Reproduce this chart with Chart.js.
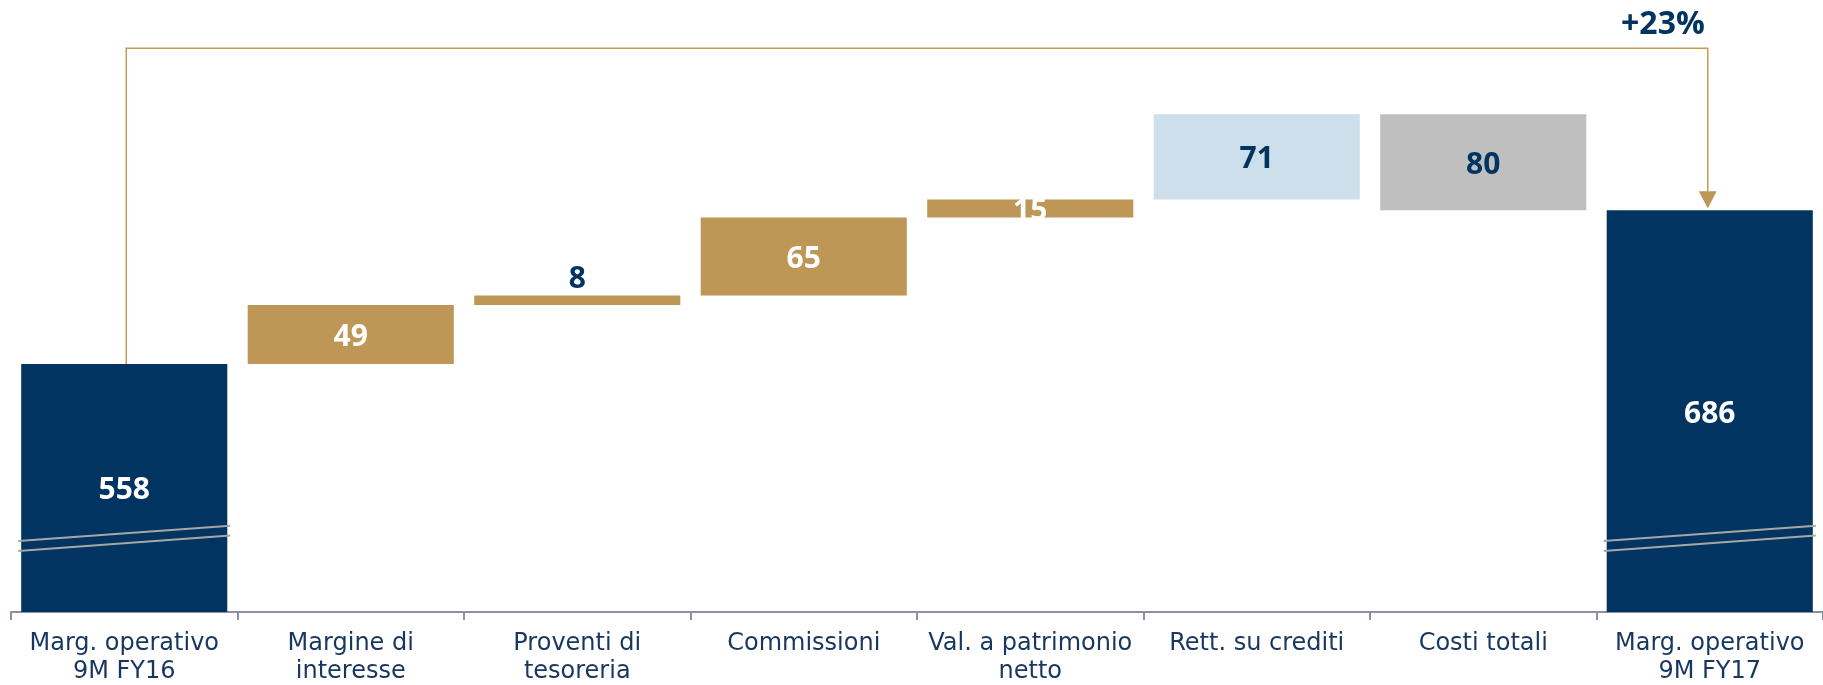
<!DOCTYPE html>
<html>
<head>
<meta charset="utf-8">
<script src="https://cdn.jsdelivr.net/npm/chart.js@4/dist/chart.umd.min.js"></script>
<style>
  body { margin: 0; background: #fff; }
  #wrap { width: 1823px; height: 685px; position: relative; }
</style>
</head>
<body>
<div id="wrap"><canvas id="waterfallChart"></canvas></div>
<script>
// dati (milioni di euro)
var categories = [
    ['Marg. operativo', '9M FY16'],
    ['Margine di', 'interesse'],
    ['Proventi di', 'tesoreria'],
    ['Commissioni'],
    ['Val. a patrimonio', 'netto'],
    ['Rett. su crediti'],
    ['Costi totali'],
    ['Marg. operativo', '9M FY17']
];
var steps = [558, 49, 8, 65, 15, 71, -80, 686];
var isTotal = [true, false, false, false, false, false, false, true];
var growthLabel = '+23%';

// stile
var navy = '#013461';
var gold = '#BE9656';
var barColors = [navy, gold, gold, gold, gold, '#CDDFEB', '#BFBFBF', navy];
var labelColors = ['#fff', '#fff', navy, '#fff', '#fff', navy, navy, '#fff'];
var labelAbove = [false, false, true, false, false, false, false, false];

// asse spezzato: parte da 351
var axisMin = 351.25;
var axisMax = 861.25;
var connectorLevel = 821;
var breakLeft = 410.4, breakRight = 423.2, breakGap = 8.3;

// barre flottanti per il waterfall
var floats = [];
var running = 0;
for (var i = 0; i < steps.length; i++) {
    if (isTotal[i]) {
        floats.push([axisMin, steps[i]]);
        running = steps[i];
    } else {
        floats.push([running, running + steps[i]]);
        running += steps[i];
    }
}

var waterfallExtras = {
    id: 'waterfallExtras',
    afterDatasetsDraw: function (chart) {
        var ctx = chart.ctx;
        var meta = chart.getDatasetMeta(0);
        var ys = chart.scales.y;
        ctx.save();

        // segni di interruzione sulle barre totali
        ctx.strokeStyle = '#A6A6A6';
        ctx.lineWidth = 2;
        meta.data.forEach(function (bar, i) {
            if (!isTotal[i]) return;
            var x0 = bar.x - bar.width / 2 - 3;
            var x1 = bar.x + bar.width / 2 + 3;
            [0, breakGap].forEach(function (d) {
                ctx.beginPath();
                ctx.moveTo(x0, ys.getPixelForValue(breakLeft - d));
                ctx.lineTo(x1, ys.getPixelForValue(breakRight - d));
                ctx.stroke();
            });
        });

        // etichette valori
        ctx.font = 'bold 30px "Open Sans"';
        ctx.textAlign = 'center';
        ctx.textBaseline = 'middle';
        meta.data.forEach(function (bar, i) {
            var top = Math.min(bar.y, bar.base);
            var bottom = Math.max(bar.y, bar.base);
            var ty = labelAbove[i] ? top - 16 : (top + bottom) / 2 + 3;
            ctx.fillStyle = labelColors[i];
            ctx.fillText(String(Math.abs(steps[i])), bar.x, ty);
        });

        // connettore +23%
        var first = meta.data[0];
        var last = meta.data[meta.data.length - 1];
        var lineY = ys.getPixelForValue(connectorLevel);
        var tipY = Math.min(last.y, last.base) - 2;
        ctx.strokeStyle = '#C99A55';
        ctx.lineWidth = 1.5;
        ctx.beginPath();
        ctx.moveTo(first.x + 2, Math.min(first.y, first.base));
        ctx.lineTo(first.x + 2, lineY);
        ctx.lineTo(last.x - 2, lineY);
        ctx.lineTo(last.x - 2, tipY - 16);
        ctx.stroke();
        ctx.fillStyle = gold;
        ctx.beginPath();
        ctx.moveTo(last.x - 11, tipY - 17);
        ctx.lineTo(last.x + 7, tipY - 17);
        ctx.lineTo(last.x - 2, tipY);
        ctx.closePath();
        ctx.fill();

        ctx.font = 'bold 32px "Open Sans"';
        ctx.textAlign = 'right';
        ctx.fillStyle = navy;
        ctx.fillText(growthLabel, last.x - 5, lineY - 23);
        ctx.restore();
    }
};

var waterfallConfig = {
    type: 'bar',
    data: {
        labels: categories,
        datasets: [{
            data: floats,
            backgroundColor: barColors,
            borderWidth: 0,
            categoryPercentage: 1,
            barPercentage: 0.91
        }]
    },
    options: {
        responsive: true,
        maintainAspectRatio: false,
        animation: false,
        layout: { padding: { left: 11, right: 0, top: 0, bottom: 0 } },
        plugins: {
            legend: { display: false },
            tooltip: { enabled: false }
        },
        scales: {
            x: {
                afterFit: function (scale) { scale.height = 73; },
                border: { display: true, color: '#8C90A4', width: 2 },
                grid: {
                    offset: true,
                    drawOnChartArea: false,
                    drawTicks: true,
                    tickLength: 8,
                    color: '#8C90A4',
                    lineWidth: 2
                },
                ticks: {
                    color: '#17375E',
                    padding: 9,
                    maxRotation: 0,
                    autoSkip: false,
                    font: { family: '"DejaVu Sans"', size: 24, lineHeight: 1.2 }
                }
            },
            y: {
                display: false,
                min: axisMin,
                max: axisMax
            }
        }
    },
    plugins: [waterfallExtras]
};

var waterfallChart = new Chart(
    document.getElementById('waterfallChart'),
    waterfallConfig
);
</script>
</body>
</html>
